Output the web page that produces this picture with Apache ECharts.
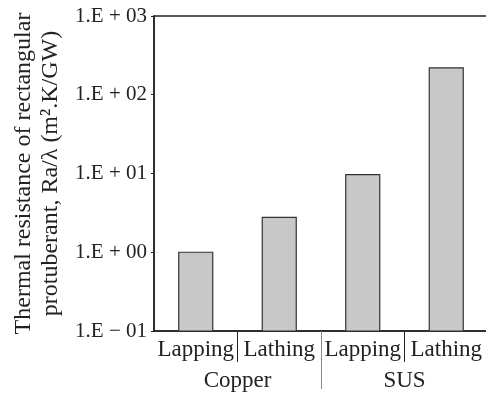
<!DOCTYPE html>
<html>
<head>
<meta charset="utf-8">
<script src="https://cdn.jsdelivr.net/npm/echarts@6/dist/echarts.min.js"></script>
<style>
  html, body { margin: 0; padding: 0; background: #fff; }
  #chart { width: 486px; height: 394px; }
</style>
</head>
<body>
<div id="chart"></div>
<script>
const methods = ['Lapping', 'Lathing', 'Lapping', 'Lathing']
const materials = ['Copper', 'SUS']
const resistance = [1.0, 2.77, 9.7, 220]
const yTicks = [0.1, 1, 10, 100, 1000]
const yMin = 0.1
// divider positions, in category units from the left edge
const methodDividers = [1, 3]
const materialDividers = [2]

const FONT = '"Liberation Serif", "Times New Roman", serif'

function sciLabel(v) {
  const e = Math.round(Math.log10(v))
  const sign = e < 0 ? '\u2212' : '+'
  const digits = String(Math.abs(e)).padStart(2, '0')
  return '1.E ' + sign + ' ' + digits
}

// bars on a log axis have to start at the axis minimum, not at 1
function renderBar(params, api) {
  const top = api.coord([api.value(0), api.value(1)])
  const base = api.coord([api.value(0), yMin])
  const w = 34
  return {
    type: 'rect',
    shape: { x: top[0] - w / 2, y: top[1], width: w, height: base[1] - top[1] },
    style: { fill: '#c8c8c8', stroke: '#333', lineWidth: 1.2 }
  }
}

function dividerAxis(values, len, color) {
  return {
    type: 'value',
    min: 0,
    max: methods.length,
    position: 'bottom',
    axisLine: { show: false },
    axisLabel: { show: false },
    splitLine: { show: false },
    axisTick: {
      show: true,
      length: len,
      customValues: values,
      lineStyle: { color: color, width: 1 }
    }
  }
}

const chart = echarts.init(document.getElementById('chart'))

const option = {
  animation: false,
  textStyle: { fontFamily: FONT },
  grid: {
    left: 154,
    top: 16,
    width: 334,
    height: 315,
    outerBoundsMode: 'none',
    containLabel: false,
    show: true,
    borderColor: '#222',
    borderWidth: 1.5,
    backgroundColor: 'transparent'
  },
  xAxis: [
    {
      type: 'category',
      data: methods,
      axisLine: { lineStyle: { color: '#222', width: 1.5 } },
      axisTick: { show: false },
      axisLabel: {
        interval: 0,
        margin: 7,
        color: '#222',
        fontSize: 23,
        fontFamily: FONT
      }
    },
    {
      type: 'category',
      data: materials,
      position: 'bottom',
      axisLine: { show: false },
      axisTick: { show: false },
      axisLabel: {
        interval: 0,
        margin: 38,
        color: '#222',
        fontSize: 23,
        fontFamily: FONT
      }
    },
    dividerAxis(methodDividers, 31, '#222'),
    dividerAxis(materialDividers, 58, '#888')
  ],
  yAxis: {
    type: 'log',
    logBase: 10,
    min: yMin,
    max: 1000,
    name: 'Thermal resistance of rectangular\nprotuberant, Ra/\u03bb (m\u00b2.K/GW)',
    nameLocation: 'middle',
    nameGap: 90,
    nameTextStyle: {
      color: '#222',
      fontSize: 24,
      lineHeight: 27,
      fontFamily: FONT
    },
    axisLine: { show: true, lineStyle: { color: '#222', width: 1.5 } },
    axisTick: { show: true, length: 3, lineStyle: { color: '#222' } },
    minorTick: { show: false },
    splitLine: { show: false },
    axisLabel: {
      margin: 7,
      color: '#222',
      fontSize: 21,
      fontFamily: FONT,
      formatter: (v) => sciLabel(v),
      customValues: yTicks
    }
  },
  series: [
    {
      type: 'custom',
      xAxisIndex: 0,
      renderItem: renderBar,
      encode: { x: 0, y: 1 },
      data: resistance.map((v, i) => [i, v])
    }
  ]
}

chart.setOption(option)
window.addEventListener('resize', chart.resize)
</script>
</body>
</html>
